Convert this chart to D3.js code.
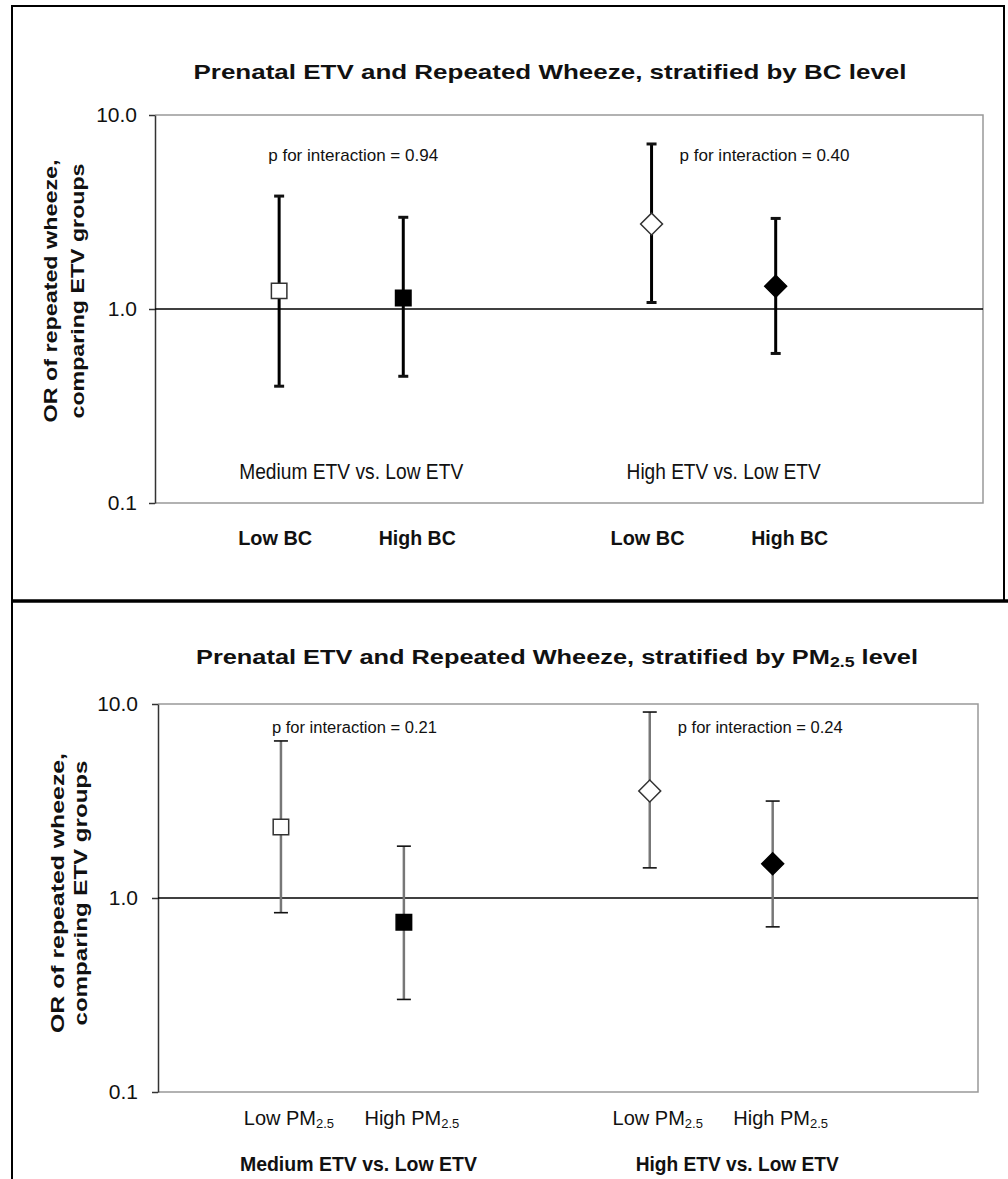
<!DOCTYPE html>
<html>
<head>
<meta charset="utf-8">
<script src="https://cdn.jsdelivr.net/npm/d3@7"></script>
<style>
  body { margin: 0; background: #fff; }
  text { font-family: "Liberation Sans", Arial, sans-serif; fill: #111; }
</style>
</head>
<body>
<svg id="chart" width="1008" height="1179"></svg>
<script>
// values (odds ratios with 95% CI)
const groups = ["Medium ETV vs. Low ETV", "High ETV vs. Low ETV"];
const bcStrata = ["Low BC", "High BC", "Low BC", "High BC"];
const bcOR = [1.24, 1.14, 2.74, 1.31];
const bcLower = [0.40, 0.45, 1.08, 0.59];
const bcUpper = [3.82, 2.97, 7.09, 2.93];
const bcPvalues = ["0.94", "0.40"];

const pmStrata = ["Low PM", "High PM", "Low PM", "High PM"];
const pmOR = [2.32, 0.75, 3.56, 1.50];
const pmLower = [0.84, 0.30, 1.43, 0.71];
const pmUpper = [6.45, 1.85, 9.09, 3.16];
const pmPvalues = ["0.21", "0.24"];

const yTicks = [0.1, 1, 10];

const svg = d3.select("#chart");

// frame around the two panels
svg.append("rect").attr("x", 12).attr("y", 6).attr("width", 992).attr("height", 595)
  .attr("fill", "none").attr("stroke", "#000").attr("stroke-width", 2);
svg.append("line").attr("x1", 12).attr("x2", 1008).attr("y1", 601).attr("y2", 601)
  .attr("stroke", "#000").attr("stroke-width", 3.5);
svg.append("line").attr("x1", 12).attr("x2", 12).attr("y1", 601).attr("y2", 1179)
  .attr("stroke", "#000").attr("stroke-width", 2);

function fit(sel, w) {
  sel.attr("textLength", w).attr("lengthAdjust", "spacingAndGlyphs");
  return sel;
}

function drawPanel(o) {
  const x = d3.scaleLinear().domain([0, 6.67]).range([o.left, o.right]);
  const y = d3.scaleLog().domain([0.1, 10]).range([o.bottom, o.top]);
  const slot = i => i + 1 + Math.floor(i / 2);
  const g = svg.append("g");

  // plot frame (top, right, bottom grey)
  g.append("path")
    .attr("d", `M${o.left},${o.top}H${o.right}V${o.bottom}H${o.left}`)
    .attr("fill", "none").attr("stroke", "#999").attr("stroke-width", 1.5);

  const axis = g.append("g").attr("transform", `translate(${o.left},0)`)
    .call(d3.axisLeft(y).tickValues(yTicks).tickFormat(d3.format(".1f"))
      .tickSizeInner(6).tickSizeOuter(0).tickPadding(o.tickPad));
  axis.selectAll("path, line").attr("stroke", "#333").attr("stroke-width", 1.5);
  axis.selectAll("text").attr("font-size", 21).attr("fill", "#222")
    .style("font-family", "'Liberation Sans', Arial, sans-serif");

  // reference line at OR = 1
  g.append("line").attr("x1", o.left).attr("x2", o.right)
    .attr("y1", y(1)).attr("y2", y(1)).attr("stroke", "#000").attr("stroke-width", 1.6);

  const rows = o.or.map((v, i) => ({ i, or: v, lo: o.lower[i], hi: o.upper[i] }));

  const bars = g.selectAll(".ci").data(rows).enter().append("g");
  bars.append("line")
    .attr("x1", d => x(slot(d.i))).attr("x2", d => x(slot(d.i)))
    .attr("y1", d => y(d.lo)).attr("y2", d => y(d.hi))
    .attr("stroke", o.stem).attr("stroke-width", o.stemWidth);
  ["lo", "hi"].forEach(k => {
    bars.append("line")
      .attr("x1", d => x(slot(d.i)) - o.cap).attr("x2", d => x(slot(d.i)) + o.cap)
      .attr("y1", d => y(d[k])).attr("y2", d => y(d[k]))
      .attr("stroke", "#111").attr("stroke-width", o.capWidth);
  });

  g.selectAll(".pt").data(rows).enter().append("path")
    .attr("d", d3.symbol(d3.symbolSquare, 240))
    .attr("transform", d => `translate(${x(slot(d.i))},${y(d.or)})` + (d.i >= 2 ? " rotate(45)" : ""))
    .attr("fill", d => d.i % 2 ? "#000" : "#fff")
    .attr("stroke", d => d.i % 2 ? "#000" : "#333").attr("stroke-width", 1.5);

  const mid = k => (x(slot(2 * k)) + x(slot(2 * k + 1))) / 2;

  // p for interaction
  fit(g.append("text").attr("x", mid(0) + 12).attr("y", o.pY).attr("text-anchor", "middle")
    .attr("dominant-baseline", "central").attr("font-size", o.pSize)
    .text("p for interaction = " + o.p[0]), o.pWidth);
  fit(g.append("text").attr("x", x(slot(2)) + 28).attr("y", o.pY)
    .attr("dominant-baseline", "central").attr("font-size", o.pSize)
    .text("p for interaction = " + o.p[1]), o.pWidth);

  return { x, y, slot, mid, g };
}

// ---------- top panel: BC ----------
const bcPanel = drawPanel({
  left: 155, right: 983, top: 115, bottom: 503, tickPad: 12,
  or: bcOR, lower: bcLower, upper: bcUpper, p: bcPvalues,
  stem: "#000", stemWidth: 3, cap: 5, capWidth: 3,
  pY: 155, pSize: 17, pWidth: 170
});

fit(svg.append("text").attr("x", 550).attr("y", 71).attr("text-anchor", "middle")
  .attr("dominant-baseline", "central").attr("font-size", 21).attr("font-weight", "bold")
  .text("Prenatal ETV and Repeated Wheeze, stratified by BC level"), 713);

[["OR of repeated wheeze,", 50, 263], ["comparing ETV groups", 77, 255]].forEach(([t, cx, w]) => {
  fit(svg.append("text").attr("transform", `translate(${cx},291) rotate(-90)`)
    .attr("text-anchor", "middle").attr("dominant-baseline", "central")
    .attr("font-size", 19).attr("font-weight", "bold").text(t), w);
});

groups.forEach((t, k) => {
  fit(bcPanel.g.append("text").attr("x", bcPanel.mid(k) + 10).attr("y", 471).attr("text-anchor", "middle")
    .attr("dominant-baseline", "central").attr("font-size", 22).attr("fill", "#222").text(t),
    k ? 194 : 224);
});

bcStrata.forEach((t, i) => {
  fit(bcPanel.g.append("text").attr("x", bcPanel.x(bcPanel.slot(i)) + (i % 2 ? 14 : -4)).attr("y", 538)
    .attr("text-anchor", "middle").attr("dominant-baseline", "central")
    .attr("font-size", 20).attr("font-weight", "bold").text(t), i % 2 ? 77 : 74);
});

// ---------- bottom panel: PM2.5 ----------
const pmPanel = drawPanel({
  left: 158, right: 978, top: 704, bottom: 1092, tickPad: 14,
  or: pmOR, lower: pmLower, upper: pmUpper, p: pmPvalues,
  stem: "#777", stemWidth: 2.5, cap: 7, capWidth: 1.6,
  pY: 727, pSize: 16, pWidth: 165
});

const t2 = svg.append("text").attr("x", 557).attr("y", 657).attr("text-anchor", "middle")
  .attr("dominant-baseline", "central").attr("font-size", 20).attr("font-weight", "bold");
t2.append("tspan").text("Prenatal ETV and Repeated Wheeze, stratified by PM");
t2.append("tspan").attr("font-size", 14).attr("dy", 5).text("2.5");
t2.append("tspan").attr("dy", -5).text(" level");
fit(t2, 722);

[["OR of repeated wheeze,", 57, 280], ["comparing ETV groups", 80, 265]].forEach(([t, cx, w]) => {
  fit(svg.append("text").attr("transform", `translate(${cx},893) rotate(-90)`)
    .attr("text-anchor", "middle").attr("dominant-baseline", "central")
    .attr("font-size", 19).attr("font-weight", "bold").text(t), w);
});

pmStrata.forEach((t, i) => {
  const s = pmPanel.g.append("text").attr("x", pmPanel.x(pmPanel.slot(i)) + 8).attr("y", 1118)
    .attr("text-anchor", "middle").attr("dominant-baseline", "central")
    .attr("font-size", 20).attr("fill", "#222");
  s.append("tspan").text(t);
  s.append("tspan").attr("font-size", 13).attr("dy", 5).text("2.5");
});

groups.forEach((t, k) => {
  fit(pmPanel.g.append("text").attr("x", pmPanel.mid(k) + (k ? 26 : 16)).attr("y", 1163).attr("text-anchor", "middle")
    .attr("dominant-baseline", "central").attr("font-size", 21).attr("font-weight", "bold").text(t),
    k ? 203 : 237);
});
</script>
</body>
</html>
